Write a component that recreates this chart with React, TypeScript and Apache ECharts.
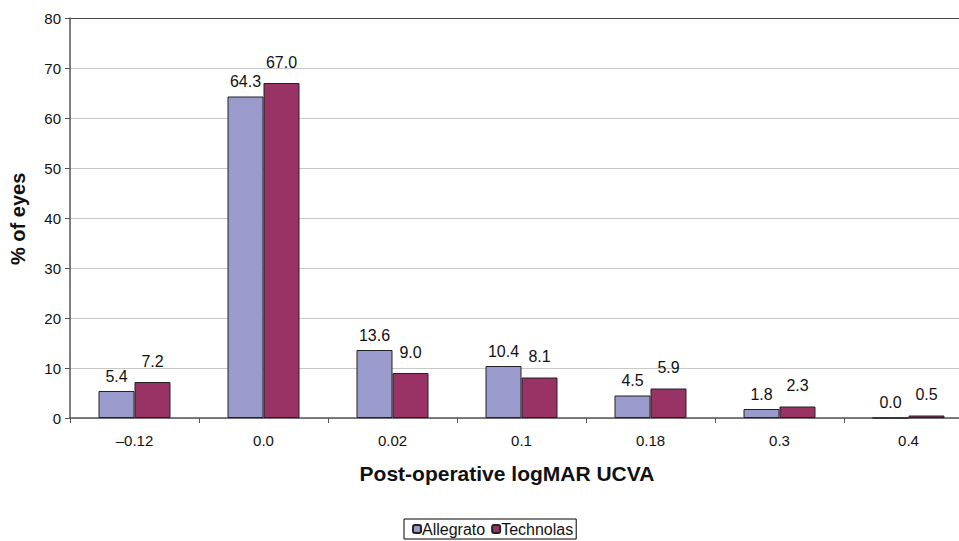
import React, { useEffect, useRef } from "react";
import * as echarts from "echarts";

const categories = ["–0.12", "0.0", "0.02", "0.1", "0.18", "0.3", "0.4"];
const allegrato = [5.4, 64.3, 13.6, 10.4, 4.5, 1.8, 0.0];
const technolas = [7.2, 67.0, 9.0, 8.1, 5.9, 2.3, 0.5];
const yTicks = [0, 10, 20, 30, 40, 50, 60, 70, 80];

const FONT = "Liberation Sans, Arial, sans-serif";

export default function App() {
  const ref = useRef<HTMLDivElement>(null);
  useEffect(() => {
    if (!ref.current) return;
    const chart = echarts.init(ref.current, null, { renderer: "svg" });
    const splitColors = yTicks.map((_, i) => (i === yTicks.length - 1 ? "#444" : "#c8c8c8"));
    chart.setOption({
      animation: false,
      backgroundColor: "#fff",
      textStyle: { fontFamily: FONT },
      grid: {
        left: 70,
        width: 903,
        top: 18,
        bottom: 123,
        containLabel: false,
        outerBoundsMode: "none",
      },
      legend: {
        left: 404,
        top: 519,
        orient: "horizontal",
        itemWidth: 8,
        itemHeight: 8,
        itemGap: 6,
        padding: [2, 3, 2, 8],
        borderColor: "#000",
        borderWidth: 1,
        textStyle: { fontSize: 16, color: "#111", fontFamily: FONT, padding: [0, 0, 0, -4] },
        data: ["Allegrato", "Technolas"],
      },
      xAxis: {
        type: "category",
        data: categories,
        axisLine: { lineStyle: { color: "#555", width: 1.5 } },
        axisTick: { show: true, alignWithLabel: false, length: 5, lineStyle: { color: "#555" } },
        axisLabel: { fontSize: 15, color: "#111", margin: 15, fontFamily: FONT },
        splitLine: { show: false },
      },
      yAxis: {
        type: "value",
        min: 0,
        max: 80,
        interval: 10,
        axisLine: { show: true, lineStyle: { color: "#555", width: 1.5 } },
        axisTick: { show: true, length: 5, lineStyle: { color: "#555" } },
        axisLabel: { fontSize: 15, color: "#111", margin: 9, fontFamily: FONT },
        splitLine: { show: true, lineStyle: { color: splitColors, width: 1 } },
      },
      graphic: [
        {
          type: "text",
          x: 507,
          y: 463,
          style: {
            text: "Post-operative logMAR UCVA",
            fontSize: 21,
            fontWeight: "bold",
            fill: "#111",
            fontFamily: FONT,
            textAlign: "center",
          },
        },
        {
          type: "text",
          x: 8,
          y: 265,
          rotation: Math.PI / 2,
          style: {
            text: "% of eyes",
            fontSize: 20,
            fontWeight: "bold",
            fill: "#111",
            fontFamily: FONT,
          },
        },
      ],
      series: [
        {
          name: "Allegrato",
          type: "bar",
          data: allegrato,
          barWidth: 36,
          barGap: "0%",
          itemStyle: { color: "#9a9acc", borderColor: "#222", borderWidth: 1 },
          label: {
            show: true,
            position: "top",
            distance: 7,
            fontSize: 16,
            color: "#111",
            fontFamily: FONT,
            formatter: (p: any) => Number(p.value).toFixed(1),
          },
        },
        {
          name: "Technolas",
          type: "bar",
          data: technolas,
          barWidth: 36,
          barGap: "0%",
          itemStyle: { color: "#993366", borderColor: "#222", borderWidth: 1 },
          label: {
            show: true,
            position: "top",
            distance: 13,
            fontSize: 16,
            color: "#111",
            fontFamily: FONT,
            formatter: (p: any) => Number(p.value).toFixed(1),
          },
        },
      ],
    });
    return () => chart.dispose();
  }, []);
  return (
    <div
      ref={ref}
      style={{ position: "fixed", left: 0, top: 0, width: 959, height: 541, background: "#fff" }}
    />
  );
}
